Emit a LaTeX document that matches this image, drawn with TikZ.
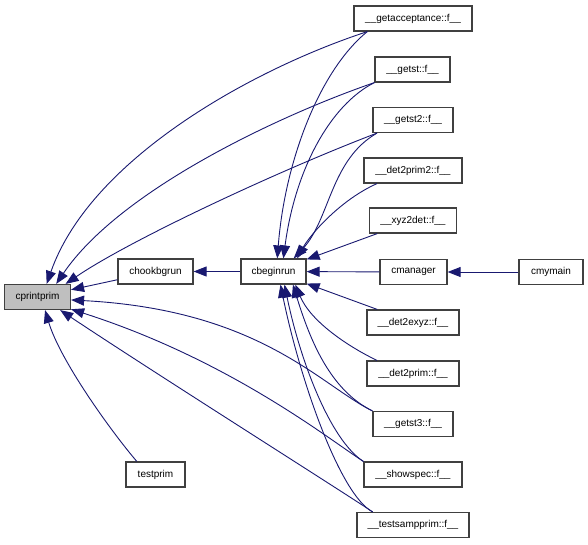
\documentclass[tikz,border=0pt]{standalone}
\usepackage{fontspec}
\setmainfont{Liberation Sans}
\usepackage{xcolor}
\usetikzlibrary{arrows.meta}
\definecolor{edgeblue}{RGB}{25,25,112}
\definecolor{boxline}{RGB}{64,64,64}
\definecolor{selgray}{RGB}{191,191,191}

\begin{document}
\begin{tikzpicture}[x=1pt,y=-1pt,
	box/.style={draw=boxline,line width=1.2pt,fill=white,minimum height=25pt,inner sep=0pt,font=\fontsize{10}{12}\selectfont},
	call/.style={draw=edgeblue,line width=0.9pt,-{Triangle[length=13pt,width=10pt]}}]
	
	\useasboundingbox (0,0) rectangle (588,544);
	
	% left part
	\node [box,fill=selgray,minimum width=66pt] (cprintprim) at (37.5,297) {cprintprim};
	\node [box,minimum width=75pt] (chookbgrun) at (155.5,271.5) {chookbgrun};
	\node [box,minimum width=65pt] (cbeginrun) at (273.5,271.5) {cbeginrun};
	\node [box,minimum width=59pt] (testprim) at (155.5,474.5) {testprim};
	
	% right column
	\node [box,minimum width=118pt] (getacceptance) at (413,18.5) {\_\_getacceptance::f\_\_};
	\node [box,minimum width=75pt] (getst) at (412.5,69.5) {\_\_getst::f\_\_};
	\node [box,minimum width=80pt] (getst2) at (413,120) {\_\_getst2::f\_\_};
	\node [box,minimum width=98pt] (det2prim2) at (413,170.5) {\_\_det2prim2::f\_\_};
	\node [box,minimum width=87pt] (xyz2det) at (413,220.5) {\_\_xyz2det::f\_\_};
	\node [box,minimum width=67pt] (cmanager) at (413.5,272) {cmanager};
	\node [box,minimum width=64pt] (cmymain) at (551,272) {cmymain};
	\node [box,minimum width=92pt] (det2exyz) at (413,322.5) {\_\_det2exyz::f\_\_};
	\node [box,minimum width=92pt] (det2prim) at (413,373.5) {\_\_det2prim::f\_\_};
	\node [box,minimum width=80pt] (getst3) at (413,424) {\_\_getst3::f\_\_};
	\node [box,minimum width=98pt] (showspec) at (413,474.5) {\_\_showspec::f\_\_};
	\node [box,minimum width=112pt] (testsampprim) at (413,525) {\_\_testsampprim::f\_\_};
	
	% straight calls
	\draw [call] (chookbgrun) -- (cprintprim);
	\draw [call] (cbeginrun) -- (chookbgrun);
	\draw [call] (cmymain) -- (cmanager);
	\draw [call] (cmanager) -- (cbeginrun);
	\draw [call] (xyz2det) -- (cbeginrun);
	\draw [call] (det2exyz) -- (cbeginrun);
	
	% calls into cprintprim
	\draw [call] (getacceptance.196) .. controls (250,70) and (90,160) .. (cprintprim.55);
	\draw [call] (getst.south west) .. controls (280,115) and (120,190) .. (cprintprim.35);
	\draw [call] (getst2.200) .. controls (280,170) and (130,240) .. (cprintprim.25);
	\draw [call] (getst3.north west) .. controls (320,385) and (260,310) .. (cprintprim.-5);
	\draw [call] (showspec.north west) .. controls (330,440) and (230,360) .. (cprintprim.-20);
	\draw [call] (testsampprim.162) .. controls (340,490) and (150,370) .. (cprintprim.-30);
	\draw [call] (testprim.145) .. controls (110,430) and (60,360) .. (cprintprim.-60);
	
	% calls into cbeginrun
	\draw [call] (getacceptance.196) .. controls (320,70) and (285,160) .. (cbeginrun.74);
	\draw [call] (getst.south west) .. controls (330,105) and (295,170) .. (cbeginrun.53);
	\draw [call] (getst2.200) .. controls (330,160) and (330,220) .. (cbeginrun.33);
	\draw [call] (det2prim2.200) .. controls (340,200) and (310,235) .. (cbeginrun.29);
	\draw [call] (det2prim.160) .. controls (345,345) and (310,320) .. (cbeginrun.-31);
	\draw [call] (getst3.north west) .. controls (330,390) and (310,340) .. (cbeginrun.-34);
	\draw [call] (showspec.north west) .. controls (330,440) and (300,360) .. (cbeginrun.-50);
	\draw [call] (testsampprim.162) .. controls (340,495) and (300,380) .. (cbeginrun.-62);
	
\end{tikzpicture}
\end{document}
